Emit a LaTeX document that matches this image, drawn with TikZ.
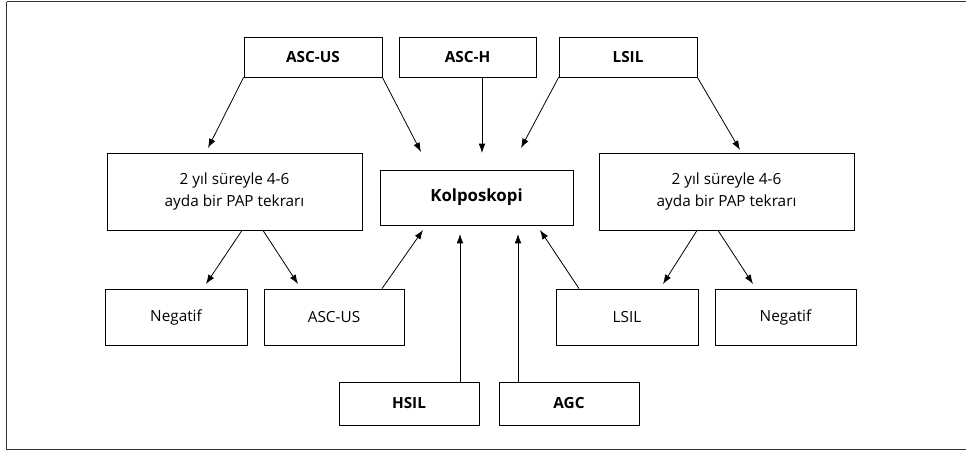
\documentclass[tikz,border=0pt]{standalone}
\usepackage{fontspec}
\setmainfont{Open Sans}
\usepackage{tikz}
\usetikzlibrary{arrows.meta}

\begin{document}
\begin{tikzpicture}[x=0.75pt, y=-0.75pt,
    box/.style={draw=black, line width=0.6pt, inner sep=0pt, align=center, font=\fontsize{11.5}{16.5}\selectfont},
    bbox/.style={box, font=\fontsize{11.5}{16.5}\selectfont\bfseries},
    arr/.style={-{Latex[length=7pt, width=5pt]}, line width=0.6pt, draw=black}]
  \useasboundingbox (0,0) rectangle (966,454);
  \draw[line width=1.2pt, draw=black!80] (6.5,1.5) -- (972,1.5); %
  \draw[line width=1.2pt, draw=black!80] (6.5,1.5) -- (6.5,449.5) -- (972,449.5); %

  \node[bbox, minimum width=138*0.75pt, minimum height=40*0.75pt] (ascusA) at (313,57) {ASC-US}; %
  \node[bbox, minimum width=137*0.75pt, minimum height=40*0.75pt] (asch) at (467.5,57) {ASC-H}; %
  \node[bbox, minimum width=138*0.75pt, minimum height=40*0.75pt] (lsilA) at (628,57) {LSIL}; %
  \node[box, minimum width=255*0.75pt, minimum height=77*0.75pt] (papL) at (234.5,191.5) {2 yıl süreyle 4-6\\ayda bir PAP tekrarı}; %
  \node[bbox, font=\fontsize{12.6}{16}\selectfont\bfseries, minimum width=193*0.75pt, minimum height=55*0.75pt] (kolpo) at (476.5,197.5) {Kolposkopi}; %
  \node[box, minimum width=255*0.75pt, minimum height=77*0.75pt] (papR) at (726.5,191.5) {2 yıl süreyle 4-6\\ayda bir PAP tekrarı}; %
  \node[box, minimum width=142*0.75pt, minimum height=56*0.75pt] (negL) at (176,317) {Negatif}; %
  \node[box, minimum width=140*0.75pt, minimum height=56*0.75pt] (ascusB) at (334,317) {ASC-US}; %
  \node[box, minimum width=142*0.75pt, minimum height=56*0.75pt] (lsilB) at (627,317) {LSIL}; %
  \node[box, minimum width=141*0.75pt, minimum height=56*0.75pt] (negR) at (785.5,317) {Negatif}; %
  \node[bbox, minimum width=140*0.75pt, minimum height=43*0.75pt] (hsil) at (409,403.5) {HSIL}; %
  \node[bbox, minimum width=140*0.75pt, minimum height=43*0.75pt] (agc) at (569,403.5) {AGC}; %

  % free arrow ends
  \coordinate (e1) at (208,148);
  \coordinate (e2) at (421,152);
  \coordinate (e3) at (482,153);
  \coordinate (e4) at (521,148);
  \coordinate (e5) at (740,150);
  \coordinate (e6) at (206,284);
  \coordinate (e7) at (298,284);
  \coordinate (e8) at (663,284);
  \coordinate (e9) at (753,284);
  \coordinate (e10) at (423,230);
  \coordinate (e11) at (460,234);
  \coordinate (e12) at (518,234);
  \coordinate (e13) at (540,230);

  \draw[arr] (ascusA.south west) -- (e1);
  \draw[arr] (ascusA.south east) -- (e2);
  \draw[arr] ([xshift=14.5*0.75pt]asch.south) -- (e3);
  \draw[arr] (lsilA.south west) -- (e4);
  \draw[arr] (lsilA.south east) -- (e5);
  \draw[arr] ([xshift=7.5*0.75pt]papL.south) -- (e6);
  \draw[arr] ([xshift=28.5*0.75pt]papL.south) -- (e7);
  \draw[arr] ([xshift=-29.5*0.75pt]papR.south) -- (e8);
  \draw[arr] ([xshift=-8.5*0.75pt]papR.south) -- (e9);
  \draw[arr] ([xshift=48*0.75pt]ascusB.north) -- (e10);
  \draw[arr] ([xshift=51*0.75pt]hsil.north) -- (e11);
  \draw[arr] ([xshift=-51*0.75pt]agc.north) -- (e12);
  \draw[arr] ([xshift=-48*0.75pt]lsilB.north) -- (e13);
\end{tikzpicture}
\end{document}
